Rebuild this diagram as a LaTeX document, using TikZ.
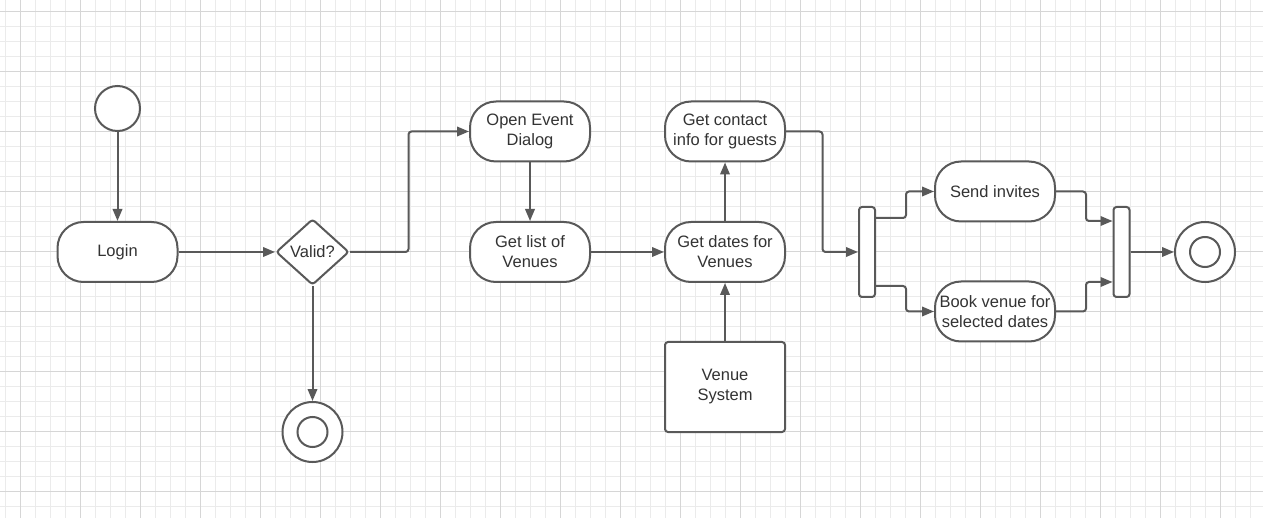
\documentclass[tikz,border=0pt]{standalone}
\usepackage{fontspec}
\setmainfont{Liberation Sans}
\usetikzlibrary{arrows.meta,shapes.geometric}
\definecolor{ink}{HTML}{595959}
\definecolor{txt}{HTML}{333333}
\definecolor{gminor}{HTML}{EBEBEB}
\definecolor{gmajor}{HTML}{D6D6D6}
\tikzset{
  shp/.style={draw=ink, line width=2pt, fill=white, text=txt, align=center, inner sep=0pt, font=\fontsize{16.5}{20}\selectfont},
  act/.style={shp, rectangle, rounded corners=26pt, minimum width=120pt, minimum height=60pt},
  sysbox/.style={shp, rectangle, rounded corners=3pt, minimum width=120pt, minimum height=90pt},
  decision/.style={shp, diamond, rounded corners=3pt, minimum width=73pt, minimum height=66pt},
  startnode/.style={shp, circle, minimum size=45pt},
  endouter/.style={shp, circle, minimum size=60pt},
  endinner/.style={draw=ink, line width=2pt, circle, minimum size=30pt, inner sep=0pt},
  bar/.style={draw=ink, line width=2pt, fill=white, rectangle, rounded corners=3pt, minimum width=16pt, minimum height=90pt, inner sep=0pt},
  conn/.style={draw=ink, line width=2pt, rounded corners=3pt, -{Triangle[length=12pt,width=9.5pt]}},
}
\begin{document}
\begin{tikzpicture}[x=1pt,y=-1pt]
\useasboundingbox (0,0) rectangle (1263,518);
\fill[white] (0,0) rectangle (1263,518);
% grid
\foreach \gx in {5.7,20.7,...,1263} \draw[gminor, line width=0.8pt] (\gx,0) -- (\gx,518);
\foreach \gy in {11.7,26.7,...,518} \draw[gminor, line width=0.8pt] (0,\gy) -- (1263,\gy);
\foreach \gx in {20.7,80.7,...,1263} \draw[gmajor, line width=0.8pt] (\gx,0) -- (\gx,518);
\foreach \gy in {11.7,71.7,...,518} \draw[gmajor, line width=0.8pt] (0,\gy) -- (1263,\gy);

% nodes
\node[startnode] (start) at (117.5,108.5) {};
\node[act] (login) at (117.5,252) {Login};
\node[decision] (valid) at (312.5,252) {Valid?};
\node[endouter] (end1) at (312.5,432) {};
\node[endinner] (end1i) at (312.5,432) {};
\node[act] (open) at (530,131.5) {Open Event\\Dialog};
\node[act] (list) at (530,252) {Get list of\\Venues};
\node[act] (dates) at (725,252) {Get dates for\\Venues};
\node[act] (contact) at (725,131.5) {Get contact\\info for guests};
\node[sysbox] (venue) at (725,387) {Venue\\System};
\node[bar] (fork) at (867,252) {};
\node[act] (send) at (995,191.5) {Send invites};
\node[act] (book) at (995,311.5) {Book venue for\\selected dates};
\node[bar] (join) at (1121.5,252) {};
\node[endouter] (end2) at (1205,252) {};
\node[endinner] (end2i) at (1205,252) {};

\coordinate (c1) at (408.5,252);
\coordinate (c2) at (822.5,131.5);

% connectors
\draw[conn] (start) -- (login);
\draw[conn] (login) -- (valid);
\draw[conn] (valid.east) -- (c1) |- (open.west);
\draw[conn] (valid) -- (end1);
\draw[conn] (open) -- (list);
\draw[conn] (list) -- (dates);
\draw[conn] (venue) -- (dates);
\draw[conn] (dates) -- (contact);
\draw[conn] (contact.east) -- (c2) |- (fork.west);
\draw[conn] ([yshift=34pt]fork.east) -- ++(30,0) |- (send.west);
\draw[conn] ([yshift=-34pt]fork.east) -- ++(30,0) |- (book.west);
\draw[conn] (send.east) -- ++(30,0) |- ([yshift=31pt]join.west);
\draw[conn] (book.east) -- ++(30,0) |- ([yshift=-30pt]join.west);
\draw[conn] (join) -- (end2);
\end{tikzpicture}
\end{document}
